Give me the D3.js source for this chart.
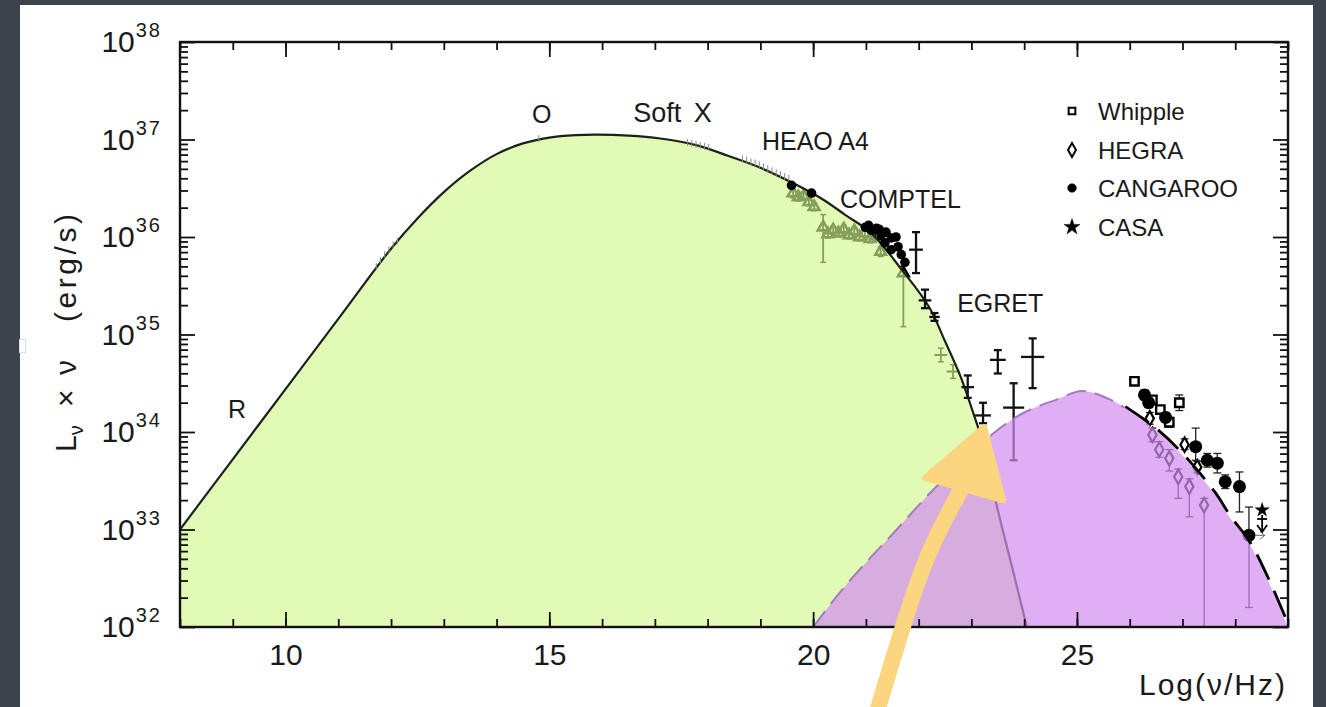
<!DOCTYPE html>
<html><head><meta charset="utf-8">
<script src="https://cdn.jsdelivr.net/npm/d3@7"></script>
<style>
html,body{margin:0;padding:0;background:#3d434d;overflow:hidden;}
svg{display:block;font-family:"Liberation Sans",Arial,Helvetica,sans-serif;}
</style></head><body>
<svg id="c" width="1326" height="707"></svg>
<script>
// ---------------- DATA (log10 values) ----------------
// Synchrotron model curve: log(nu/Hz) and log(L nu)
const syncNu = [8,9,10,11,12,12.5,13,13.5,14,14.5,15,15.5,15.9,16.5,17.1,17.8,18.4,19.0,19.7,20.2,20.6,21.1,21.7,22.2,22.5,22.8,23.05,23.2,23.5,23.8,24.05];
const syncL  = [33.0,33.72,34.44,35.16,35.88,36.19,36.46,36.68,36.85,36.96,37.02,37.045,37.05,37.04,37.01,36.94,36.83,36.71,36.53,36.38,36.23,36.04,35.65,35.28,34.93,34.56,34.17,33.92,33.2,32.55,32.0];
// Inverse Compton model curve
const icNu = [20.0,20.5,21.0,21.5,22.3,23.4,24.0,24.6,25.1,25.6,25.9,26.5,27.0,27.6,27.9,28.25,28.6,29.0];
const icL  = [32.0,32.35,32.66,32.95,33.42,33.98,34.2,34.33,34.42,34.34,34.25,34.02,33.76,33.37,33.12,32.87,32.5,32.0];
// Radio / optical / soft X / HEAO small points
const lowNu = [11.72,11.8,11.88,11.96,12.04,12.12,14.8,17.62,17.7,17.78,17.86,17.94,18.02,18.66,18.74,18.82,18.9,18.98,19.06,19.14,19.22,19.3,19.38,19.46,19.54];
const lowL  = [35.7,35.76,35.82,35.87,35.92,35.96,37.01,36.97,36.96,36.95,36.94,36.93,36.92,36.8,36.79,36.77,36.76,36.74,36.72,36.7,36.68,36.66,36.64,36.62,36.6];
// COMPTEL-range points (seen through the synchrotron fill)
const comptelNu = [19.62,19.72,19.82,19.92,20.02,20.19,20.28,20.38,20.48,20.58,20.68,20.78,20.88,20.98,21.08,21.18,21.28,21.71,22.42,22.65];
const comptelL  = [36.45,36.41,36.42,36.36,36.31,36.1,36.03,36.07,36.04,36.08,36.02,36.06,36.0,36.04,35.98,36.01,35.85,35.63,34.79,34.62];
const comptelLo = [36.4,36.37,36.38,36.32,36.27,35.74,35.99,36.03,36.0,36.04,35.98,36.02,35.96,36.0,35.94,35.97,35.8,35.08,34.72,34.55];
const comptelHi = [36.49,36.45,36.46,36.4,36.35,36.23,36.07,36.11,36.08,36.12,36.06,36.1,36.04,36.08,36.02,36.05,35.9,35.7,34.86,34.69];
// HEAO A4 / COMPTEL black points
const heaoNu = [19.59,19.97,20.99,21.05,21.1,21.2,21.25,21.29,21.36,21.38,21.48,21.48,21.57,21.61,21.67,21.74];
const heaoL  = [36.53,36.45,36.1,36.12,36.07,36.09,36.08,36.02,35.94,36.05,35.99,35.87,36.0,35.9,35.82,35.74];
// EGRET
const egretNu = [21.95,22.12,22.3,22.93,23.22,23.5,23.8,24.16];
const egretL  = [35.87,35.35,35.18,34.46,34.17,34.74,34.25,34.77];
const egretLo = [35.63,35.27,35.14,34.35,34.09,34.6,33.71,34.45];
const egretHi = [36.05,35.46,35.22,34.58,34.3,34.84,34.5,34.96];
const egretXerr = [0.13,0.12,0.1,0.12,0.15,0.15,0.2,0.22];
// TeV points
const whippleNu = [26.09,26.43,26.58,26.75,26.94];
const whippleL  = [34.52,34.33,34.23,34.1,34.3];
const whippleErr = [0.03,0.03,0.03,0.05,0.08];
const hegraNu = [26.38,26.43,26.56,26.75,26.92,27.04,27.13,27.28,27.41];
const hegraL  = [34.14,33.97,33.82,33.73,33.54,33.87,33.44,33.64,33.25];
const hegraLo = [34.08,33.9,33.74,33.6,33.32,33.82,33.13,33.58,32.0];
const hegraHi = [34.2,34.04,33.9,33.82,33.62,33.93,33.52,33.7,33.32];
const cangNu = [26.28,26.36,26.68,27.25,27.47,27.66,27.81,28.08,28.26];
const cangL  = [34.38,34.3,34.15,33.85,33.71,33.68,33.49,33.44,32.94];
const cangLo = [34.33,34.25,34.1,33.71,33.64,33.58,33.42,33.18,32.2];
const cangHi = [34.43,34.35,34.2,34.04,33.78,33.78,33.56,33.59,33.23];
const casaNu = [28.51];
const casaL  = [33.2];
// Labels
const bandLabels = ["R","O","Soft X","HEAO A4","COMPTEL","EGRET"];
const bandNu = [8.91,14.67,16.59,19.03,20.51,22.73];
const bandL  = [34.14,37.17,37.18,36.89,36.30,35.23];
const legendNames = ["Whipple","HEGRA","CANGAROO","CASA"];
const xTickMajor = [10,15,20,25];
const yDecades = [32,33,34,35,36,37,38];
// Annotation arrow (hand-drawn), in data coordinates
const arrowShaftNu = [21.21,21.74,22.22,22.82];
const arrowShaftL  = [31.13,32.07,32.79,33.43];
const arrowHeadNu = [22.12,23.24,23.6];
const arrowHeadL  = [33.53,34.05,33.3];

// ---------------- CHART ----------------
const W = 1326, H = 707;
const svg = d3.select("#c");
svg.append("rect").attr("width", W).attr("height", H).attr("fill", "#3d434d");
svg.append("rect").attr("x", 20).attr("y", 5).attr("width", 1293).attr("height", 702).attr("fill", "#ffffff");
// tofu glyph box at the left edge
svg.append("rect").attr("x", 19.5).attr("y", 339.5).attr("width", 6).attr("height", 13).attr("fill", "none").attr("stroke", "#ddd").attr("stroke-width", 1);

const L = 180, R = 1288, T = 42, B = 627;
const x = d3.scaleLinear().domain([8, 29]).range([L, R]);
const y = d3.scaleLog().domain([1e32, 1e38]).range([B, T]);
const Y = e => y(Math.pow(10, e));

svg.append("clipPath").attr("id", "plot").append("rect")
  .attr("x", L).attr("y", T).attr("width", R - L).attr("height", B - T);
const g = svg.append("g").attr("clip-path", "url(#plot)");

const zip = (a, b) => a.map((v, i) => [v, b[i]]);
const sync = zip(syncNu, syncL);
const ic = zip(icNu, icL);

const curve = d3.curveCatmullRom.alpha(0.5);
const area = d3.area().x(d => x(d[0])).y0(y(1e32)).y1(d => Y(d[1])).curve(curve);
const line = d3.line().x(d => x(d[0])).y(d => Y(d[1])).curve(curve);

// --- points under the synchrotron fill (COMPTEL) ---
const cg = g.append("g");
comptelNu.forEach((nu, i) => {
  cg.append("line").attr("x1", x(nu)).attr("x2", x(nu)).attr("y1", Y(comptelLo[i])).attr("y2", Y(comptelHi[i]))
    .attr("stroke", "#000").attr("stroke-width", 1.8);
  [comptelLo[i], comptelHi[i]].forEach(v => cg.append("line").attr("x1", x(nu) - 3).attr("x2", x(nu) + 3)
    .attr("y1", Y(v)).attr("y2", Y(v)).attr("stroke", "#000").attr("stroke-width", 1.5));
  if (nu > 22) {
    cg.append("line").attr("x1", x(nu - 0.12)).attr("x2", x(nu + 0.12)).attr("y1", Y(comptelL[i])).attr("y2", Y(comptelL[i]))
      .attr("stroke", "#000").attr("stroke-width", 2);
  } else {
    cg.append("path").attr("transform", `translate(${x(nu)},${Y(comptelL[i])})`)
      .attr("d", d3.symbol(d3.symbolTriangle, 50)()).attr("fill", "none").attr("stroke", "#000").attr("stroke-width", 2.6);
  }
});

// --- synchrotron fill + line ---
g.append("path").datum(sync).attr("d", area).attr("fill", "rgb(209,248,140)").attr("fill-opacity", 0.645);
g.append("path").datum(sync).attr("d", line).attr("fill", "none").attr("stroke", "#1c2214").attr("stroke-width", 2.2);

// --- small low-energy points ---
lowNu.forEach((nu, i) => {
  g.append("line").attr("x1", x(nu)).attr("x2", x(nu)).attr("y1", Y(lowL[i] - 0.035)).attr("y2", Y(lowL[i] + 0.035))
    .attr("stroke", "#8a8a8a").attr("stroke-width", 1);
});

// --- HEAO / COMPTEL black points ---
heaoNu.forEach((nu, i) => {
  g.append("circle").attr("cx", x(nu)).attr("cy", Y(heaoL[i])).attr("r", 4.8).attr("fill", "#000");
});

// --- EGRET crosses ---
egretNu.forEach((nu, i) => {
  const xc = x(nu);
  const col = "#111", w = 2.3;
  g.append("line").attr("x1", xc).attr("x2", xc).attr("y1", Y(egretLo[i])).attr("y2", Y(egretHi[i])).attr("stroke", col).attr("stroke-width", w);
  [egretLo[i], egretHi[i]].forEach(v => g.append("line").attr("x1", xc - 4).attr("x2", xc + 4).attr("y1", Y(v)).attr("y2", Y(v)).attr("stroke", col).attr("stroke-width", w));
  g.append("line").attr("x1", x(nu - egretXerr[i])).attr("x2", x(nu + egretXerr[i])).attr("y1", Y(egretL[i])).attr("y2", Y(egretL[i])).attr("stroke", col).attr("stroke-width", w);
});

// --- TeV points ---
function ebar(nu, lo, hi, col, w) {
  g.append("line").attr("x1", x(nu)).attr("x2", x(nu)).attr("y1", Y(lo)).attr("y2", Y(hi)).attr("stroke", col).attr("stroke-width", w);
  [lo, hi].forEach(v => g.append("line").attr("x1", x(nu) - 4).attr("x2", x(nu) + 4).attr("y1", Y(v)).attr("y2", Y(v)).attr("stroke", col).attr("stroke-width", w));
}
whippleNu.forEach((nu, i) => {
  ebar(nu, whippleL[i] - whippleErr[i], whippleL[i] + whippleErr[i], "#222", 1.3);
  g.append("path").attr("transform", `translate(${x(nu)},${Y(whippleL[i])})`)
    .attr("d", d3.symbol(d3.symbolSquare, 70)()).attr("fill", "#fff").attr("stroke", "#000").attr("stroke-width", 2.4);
});
hegraNu.forEach((nu, i) => {
  ebar(nu, hegraLo[i], hegraHi[i], "#222", 1.3);
  g.append("path").attr("transform", `translate(${x(nu)},${Y(hegraL[i])})`)
    .attr("d", d3.symbol(d3.symbolDiamond, 60)()).attr("fill", "#fff").attr("stroke", "#000").attr("stroke-width", 2.2);
});
cangNu.forEach((nu, i) => {
  ebar(nu, cangLo[i], cangHi[i], "#222", 1.3);
  g.append("circle").attr("cx", x(nu)).attr("cy", Y(cangL[i])).attr("r", 6.5).attr("fill", "#000");
});
// upper-limit arrow to the right of the last CANGAROO point
const cx8 = x(cangNu[8]), cy8 = Y(cangL[8]), ax8 = x(cangNu[8] + 0.3);
g.append("line").attr("x1", cx8 + 6).attr("x2", ax8).attr("y1", cy8).attr("y2", cy8).attr("stroke", "#666").attr("stroke-width", 1);
g.append("path").attr("d", `M${ax8 - 5},${cy8 - 4}L${ax8},${cy8}L${ax8 - 5},${cy8 + 4}`)
  .attr("fill", "none").attr("stroke", "#666").attr("stroke-width", 1);
casaNu.forEach((nu, i) => {
  const xx = x(nu), yy = Y(casaL[i]);
  g.append("path").attr("transform", `translate(${xx},${yy})`).attr("d", d3.symbol(d3.symbolStar, 75)()).attr("fill", "#000");
  g.append("line").attr("x1", xx).attr("x2", xx).attr("y1", yy + 5).attr("y2", yy + 22).attr("stroke", "#000").attr("stroke-width", 1.8);
  g.append("path").attr("d", `M${xx - 5},${yy + 15}L${xx},${yy + 22}L${xx + 5},${yy + 15}`).attr("fill", "none").attr("stroke", "#000").attr("stroke-width", 1.8);
  g.append("line").attr("x1", xx - 5).attr("x2", xx + 5).attr("y1", yy + 9).attr("y2", yy + 9).attr("stroke", "#000").attr("stroke-width", 1.8);
});

// --- inverse Compton fill + dashed line ---
g.append("path").datum(ic).attr("d", area).attr("fill", "rgb(211,141,239)").attr("fill-opacity", 0.71);
g.append("path").datum(ic.filter(d => d[0] <= 25.9)).attr("d", line).attr("fill", "none")
  .attr("stroke", "#a27cbf").attr("stroke-width", 2).attr("stroke-dasharray", "20,9");
g.append("path").datum(ic.filter(d => d[0] >= 25.9)).attr("d", line).attr("fill", "none")
  .attr("stroke", "#000").attr("stroke-width", 2.8).attr("stroke-dasharray", "28,12").attr("transform", "translate(1,-1)");

// ---------------- AXES ----------------
const minorX = d3.range(8, 30);
const axB = d3.axisBottom(x).tickValues(minorX).tickFormat("").tickSizeOuter(0).tickSizeInner(-8);
const axT = d3.axisTop(x).tickValues(minorX).tickFormat("").tickSizeOuter(0).tickSizeInner(-8);
const axBM = d3.axisBottom(x).tickValues(xTickMajor).tickSizeOuter(0).tickSizeInner(-15).tickPadding(17).tickFormat(d3.format("d"));
const axTM = d3.axisTop(x).tickValues(xTickMajor).tickFormat("").tickSizeOuter(0).tickSizeInner(-15);
const minorY = [];
for (let e = 32; e < 38; e++) for (let k = 2; k <= 9; k++) minorY.push(k * Math.pow(10, e));
const decVals = yDecades.map(e => Math.pow(10, e));
const axL = d3.axisLeft(y).tickValues(minorY).tickFormat("").tickSizeOuter(0).tickSizeInner(-8);
const axR = d3.axisRight(y).tickValues(minorY).tickFormat("").tickSizeOuter(0).tickSizeInner(-8);
const axLM = d3.axisLeft(y).tickValues(decVals).tickFormat("").tickSizeOuter(0).tickSizeInner(-15);
const axRM = d3.axisRight(y).tickValues(decVals).tickFormat("").tickSizeOuter(0).tickSizeInner(-15);

function styleAxis(sel) {
  sel.select(".domain").remove();
  sel.selectAll(".tick line").attr("stroke", "#111").attr("stroke-width", 1.8);
  sel.selectAll(".tick text").attr("fill", "#1a1a1a").attr("font-size", 30).attr("font-family", "Liberation Sans, Arial, sans-serif");
}
svg.append("g").attr("transform", `translate(0,${B})`).call(axB).call(styleAxis);
svg.append("g").attr("transform", `translate(0,${B})`).call(axBM).call(styleAxis);
svg.append("g").attr("transform", `translate(0,${T})`).call(axT).call(styleAxis);
svg.append("g").attr("transform", `translate(0,${T})`).call(axTM).call(styleAxis);
svg.append("g").attr("transform", `translate(${L},0)`).call(axL).call(styleAxis);
svg.append("g").attr("transform", `translate(${L},0)`).call(axLM).call(styleAxis);
svg.append("g").attr("transform", `translate(${R},0)`).call(axR).call(styleAxis);
svg.append("g").attr("transform", `translate(${R},0)`).call(axRM).call(styleAxis);

// frame
svg.append("rect").attr("x", L).attr("y", T).attr("width", R - L).attr("height", B - T)
  .attr("fill", "none").attr("stroke", "#111").attr("stroke-width", 2.4);

// y tick labels with superscripts
const yl = svg.append("g").selectAll("text").data(yDecades).join("text")
  .attr("x", 162).attr("y", d => Y(d) + 10).attr("text-anchor", "end").attr("fill", "#1a1a1a");
yl.append("tspan").attr("font-size", 30).text("10");
yl.append("tspan").attr("font-size", 20).attr("dx", 1).attr("dy", -15).attr("letter-spacing", 2).text(d => d);

// axis titles (rotated; local x runs upward from y=452)
const yt = svg.append("text").attr("transform", "translate(76,452) rotate(-90)").attr("fill", "#1a1a1a")
  .attr("font-size", 30);
yt.append("tspan").attr("x", 0).attr("y", 0).text("L");
yt.append("tspan").attr("font-size", 20).attr("dy", 7).text("ν");
yt.append("tspan").attr("x", 45).attr("y", 0).text("×");
yt.append("tspan").attr("x", 77).attr("y", 0).text("ν");
yt.append("tspan").attr("x", 130).attr("y", 0).attr("textLength", 108).attr("lengthAdjust", "spacing").text("(erg/s)");

svg.append("text").attr("x", 1287).attr("y", 695).attr("text-anchor", "end").attr("font-size", 30)
  .attr("letter-spacing", 2).attr("fill", "#1a1a1a").text("Log(ν/Hz)");

// band labels
svg.append("g").selectAll("text").data(bandLabels).join("text")
  .attr("x", (d, i) => x(bandNu[i])).attr("y", (d, i) => Y(bandL[i]))
  .attr("font-size", d => d === "Soft X" ? 27 : 25).attr("fill", "#1a1a1a").style("white-space", "pre")
  .attr("word-spacing", d => d === "Soft X" ? 5 : 0)
  .text(d => d);

// legend
const lg = svg.append("g");
const legY = [111, 150, 188, 227];
const legSym = [d3.symbolSquare, d3.symbolDiamond, d3.symbolCircle, d3.symbolStar];
const legFill = ["#fff", "#fff", "#000", "#000"];
const legSize = [45, 55, 60, 80];
legendNames.forEach((n, i) => {
  lg.append("path").attr("transform", `translate(1072,${legY[i]})`).attr("d", d3.symbol(legSym[i], legSize[i])())
    .attr("fill", legFill[i]).attr("stroke", "#000").attr("stroke-width", i < 2 ? 2 : 0.5);
  lg.append("text").attr("x", 1098).attr("y", legY[i] + 9).attr("font-size", 24).attr("fill", "#1a1a1a").text(n);
});

// yellow hand-drawn arrow
const shaft = zip(arrowShaftNu, arrowShaftL);
svg.append("path").datum(shaft).attr("d", d3.line().x(d => x(d[0])).y(d => Y(d[1])).curve(d3.curveNatural))
  .attr("fill", "none").attr("stroke", "#fcd57f").attr("stroke-width", 16).attr("stroke-linecap", "round");
const head = zip(arrowHeadNu, arrowHeadL);
svg.append("path").datum(head).attr("d", d3.line().x(d => x(d[0])).y(d => Y(d[1])).curve(d3.curveLinearClosed))
  .attr("fill", "#fcd57f").attr("stroke", "#fcd57f").attr("stroke-width", 6).attr("stroke-linejoin", "round");
</script>
</body></html>
